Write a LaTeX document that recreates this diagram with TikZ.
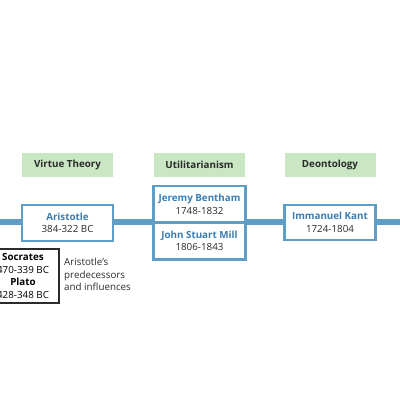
\documentclass[tikz,border=0pt]{standalone}
\usepackage{fontspec}
\setmainfont{Open Sans}
\usetikzlibrary{positioning}

\definecolor{barblue}{HTML}{5E9DC6}
\definecolor{nameblue}{HTML}{3A7DB2}
\definecolor{tagreen}{HTML}{C9E7C3}
\definecolor{inkgray}{HTML}{2B2B2B}

\begin{document}
\begin{tikzpicture}[
  x=1pt,y=-1pt,
  font=\fontsize{9.8}{12.4}\selectfont,
  bar/.style={line width=5.5pt,draw=barblue},
  theory/.style={fill=tagreen,minimum width=91pt,minimum height=24pt,inner sep=0pt,
    font=\fontsize{9.8}{12}\selectfont\bfseries,text=inkgray},
  thinker/.style={draw=barblue,line width=2.2pt,fill=white,minimum width=91pt,
    minimum height=36pt,inner sep=0pt,align=center,text=inkgray},
  influence/.style={draw=inkgray,line width=1.4pt,fill=white,minimum width=72pt,
    minimum height=54pt,inner sep=0pt,align=center,text=black},
  note/.style={anchor=north west,align=left,inner sep=0pt,text=inkgray}
]
\useasboundingbox (0,0) rectangle (400,400);

% ================= timeline =================
\coordinate (start) at (0,222);
\coordinate (end) at (400,222);
\draw[bar] (start) -- (end);

% ================= schools =================
\node[theory] (virtue) at (67.5,164.5) {Virtue Theory};
\node[theory] (util) at (199.5,164.5) {Utilitarianism};
\node[theory] (deon) at (330,164.5) {Deontology};

% ================= thinkers =================
\node[thinker] (aristotle) at (67.5,223)
  {\textcolor{nameblue}{\bfseries Aristotle}\\384-322 BC};
\node[thinker,minimum width=92pt,minimum height=37pt] (bentham) at (199.5,204.5)
  {\textcolor{nameblue}{\bfseries Jeremy Bentham}\\1748-1832};
\node[thinker,minimum width=92pt,minimum height=37pt] (mill) at (199.5,241)
  {\textcolor{nameblue}{\bfseries John Stuart Mill}\\1806-1843};
\node[thinker,minimum height=35pt] (kant) at (330,222.5)
  {\textcolor{nameblue}{\bfseries Immanuel Kant}\\1724-1804};

% ================= predecessors =================
\node[influence] (socrates) at (23,276)
  {{\bfseries Socrates}\\470-339 BC\\{\bfseries Plato}\\428-348 BC};
\node[note] (influences) at (64,258)
  {Aristotle's\\predecessors\\and influences};

\end{tikzpicture}
\end{document}
